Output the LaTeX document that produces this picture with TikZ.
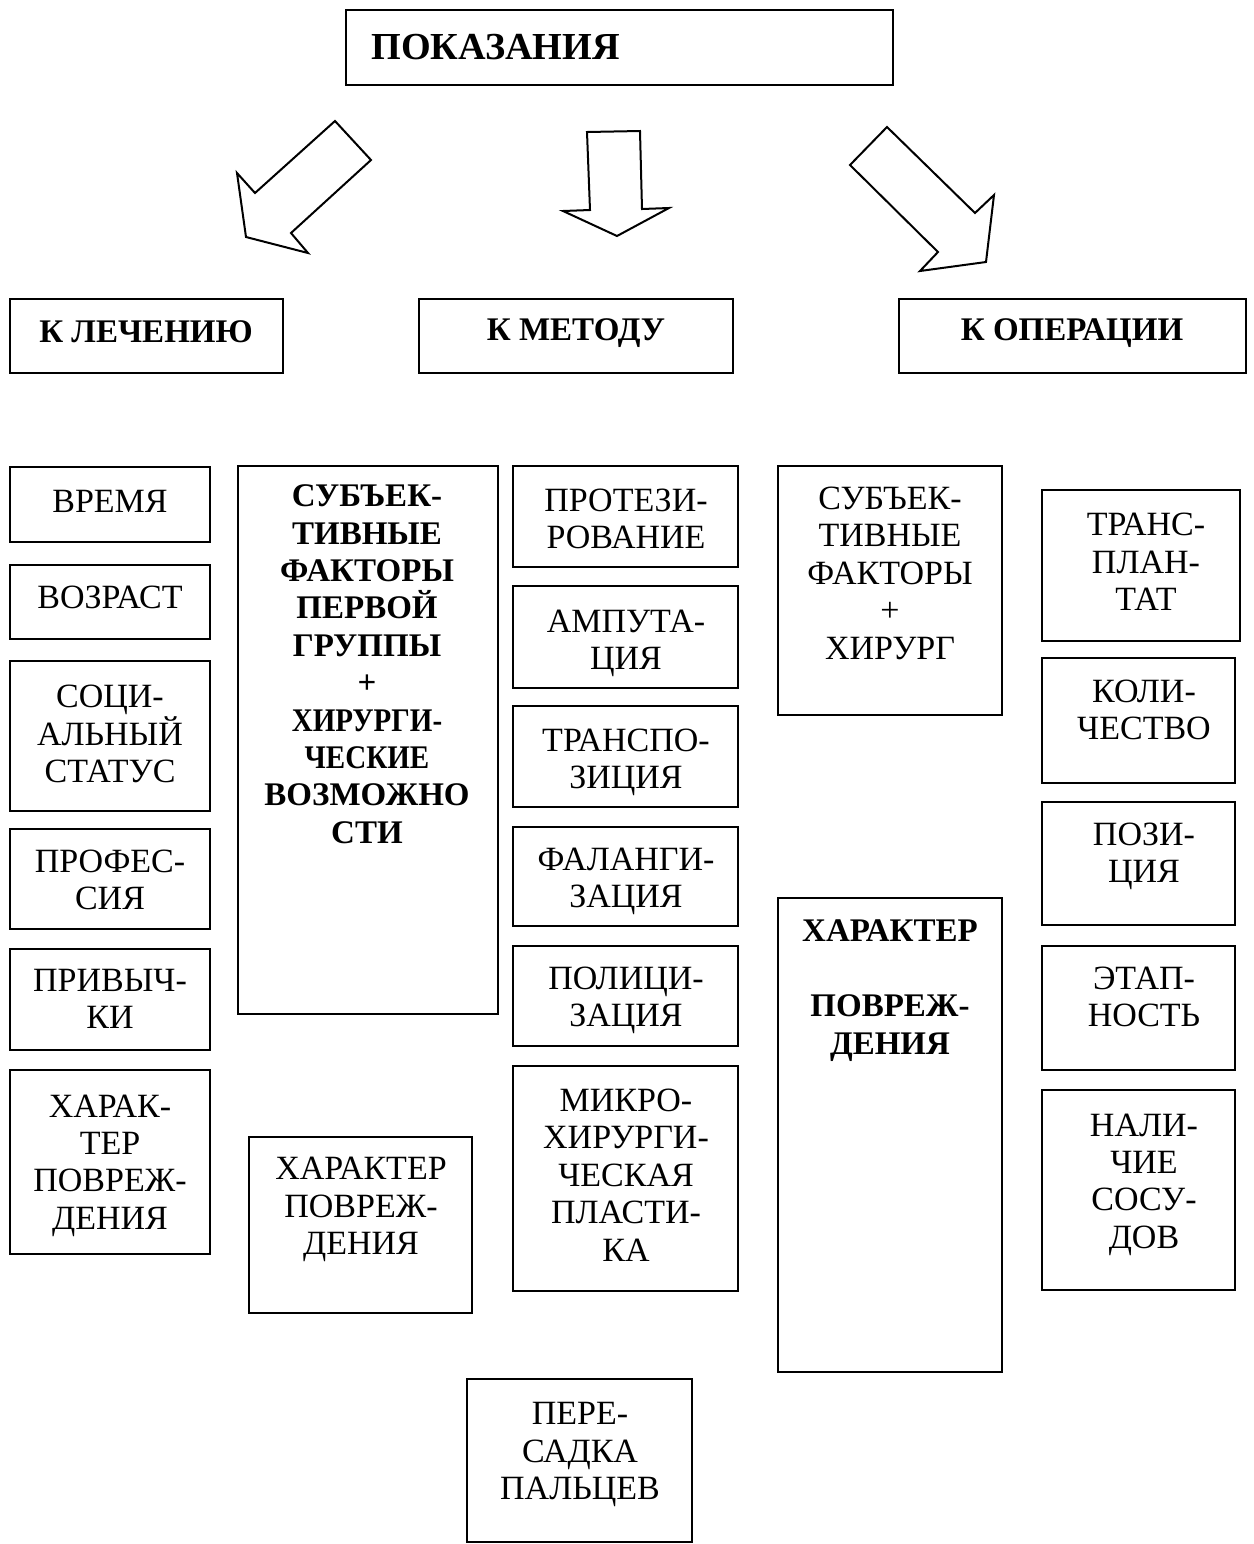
\documentclass[tikz,border=0pt]{standalone}
\usepackage{fontspec}
\setmainfont{Liberation Serif}
\tikzset{
  box/.style={draw, line width=1pt, inner sep=0pt, outer sep=0pt},
  txt/.style={align=center, inner sep=0pt, text depth=0pt, font=\fontsize{17}{18.7}\selectfont},
  btxt/.style={align=center, inner sep=0pt, text depth=0pt, font=\fontsize{16.5}{18.7}\selectfont\bfseries},
  blockarrow/.style={draw, line width=1pt, line join=miter}
}
\newcommand\boxat[5]{\node[box, minimum width={(#4-#2)*0.5pt}, minimum height={(#5-#3)*0.5pt}] (#1) at ({(#2+#4)/2},{(#3+#5)/2}) {};}
\begin{document}
\begin{tikzpicture}[x=0.5pt,y=-0.5pt]
\useasboundingbox (0,0) rectangle (1254,1544);

% top
\boxat{pok}{346}{10}{893}{85}
\node[btxt, anchor=west, font=\fontsize{19.1}{21}\selectfont\bfseries] (tpok) at (371,47) {ПОКАЗАНИЯ};

% arrows
\draw[blockarrow] (335,121) -- (371,160) -- (291,233) -- (308,253) -- (246,237) -- (237,173) -- (255,193) -- cycle;
\draw[blockarrow] (587,132) -- (640,131) -- (642,209) -- (669,208) -- (617,236) -- (563,211) -- (590,210) -- cycle;
\draw[blockarrow] (887,127) -- (975,213) -- (994,195) -- (986,262) -- (920,271) -- (938,252) -- (850,165) -- cycle;

% second row
\boxat{lech}{10}{299}{283}{373}
\node[btxt] (tlech) at (146,332) {К ЛЕЧЕНИЮ};
\boxat{met}{419}{299}{733}{373}
\node[btxt] (tmet) at (576,330) {К МЕТОДУ};
\boxat{oper}{899}{299}{1246}{373}
\node[btxt] (toper) at (1072,330) {К ОПЕРАЦИИ};

% column 1
\boxat{c1a}{10}{467}{210}{542}
\node[txt] (t1a) at (110,501) {ВРЕМЯ};
\boxat{c1b}{10}{565}{210}{639}
\node[txt] (t1b) at (110,597) {ВОЗРАСТ};
\boxat{c1c}{10}{661}{210}{811}
\node[txt] (t1c) at (110,734) {СОЦИ-\\АЛЬНЫЙ\\СТАТУС};
\boxat{c1d}{10}{829}{210}{929}
\node[txt] (t1d) at (110,880) {ПРОФЕС-\\СИЯ};
\boxat{c1e}{10}{949}{210}{1050}
\node[txt] (t1e) at (110,999) {ПРИВЫЧ-\\КИ};
\boxat{c1f}{10}{1070}{210}{1254}
\node[txt] (t1f) at (110,1162) {ХАРАК-\\ТЕР\\ПОВРЕЖ-\\ДЕНИЯ};

% column 2
\boxat{c2a}{238}{466}{498}{1014}
\node[btxt] (t2a) at (367,664) {СУБЪЕК-\\ТИВНЫЕ\\ФАКТОРЫ\\ПЕРВОЙ\\ГРУППЫ\\+\\\scalebox{0.88}[1]{ХИРУРГИ-}\\\scalebox{0.88}[1]{ЧЕСКИЕ}\\ВОЗМОЖНО\\СТИ};
\boxat{c2b}{249}{1137}{472}{1313}
\node[txt] (t2b) at (361,1206) {ХАРАКТЕР\\ПОВРЕЖ-\\ДЕНИЯ};

% column 3
\boxat{c3a}{513}{466}{738}{567}
\node[txt] (t3a) at (626,519) {ПРОТЕЗИ-\\РОВАНИЕ};
\boxat{c3b}{513}{586}{738}{688}
\node[txt] (t3b) at (626,640) {АМПУТА-\\ЦИЯ};
\boxat{c3c}{513}{706}{738}{807}
\node[txt] (t3c) at (626,759) {ТРАНСПО-\\ЗИЦИЯ};
\boxat{c3d}{513}{827}{738}{926}
\node[txt] (t3d) at (626,878) {ФАЛАНГИ-\\ЗАЦИЯ};
\boxat{c3e}{513}{946}{738}{1046}
\node[txt] (t3e) at (626,997) {ПОЛИЦИ-\\ЗАЦИЯ};
\boxat{c3f}{513}{1066}{738}{1291}
\node[txt] (t3f) at (626,1175) {МИКРО-\\ХИРУРГИ-\\ЧЕСКАЯ\\ПЛАСТИ-\\КА};
\boxat{c3g}{467}{1379}{692}{1542}
\node[txt] (t3g) at (580,1451) {ПЕРЕ-\\САДКА\\ПАЛЬЦЕВ};

% column 4
\boxat{c4a}{778}{466}{1002}{715}
\node[txt] (t4a) at (890,573) {СУБЪЕК-\\ТИВНЫЕ\\ФАКТОРЫ\\+\\ХИРУРГ};
\boxat{c4b}{778}{898}{1002}{1372}
\node[btxt] (t4b) at (890,987) {ХАРАКТЕР\\[18.7pt]ПОВРЕЖ-\\ДЕНИЯ};

% column 5
\boxat{c5a}{1042}{490}{1240}{641}
\node[txt] (t5a) at (1146,562) {ТРАНС-\\ПЛАН-\\ТАТ};
\boxat{c5b}{1042}{658}{1235}{783}
\node[txt] (t5b) at (1144,710) {КОЛИ-\\ЧЕСТВО};
\boxat{c5c}{1042}{802}{1235}{925}
\node[txt] (t5c) at (1144,853) {ПОЗИ-\\ЦИЯ};
\boxat{c5d}{1042}{946}{1235}{1070}
\node[txt] (t5d) at (1144,997) {ЭТАП-\\НОСТЬ};
\boxat{c5e}{1042}{1090}{1235}{1290}
\node[txt] (t5e) at (1144,1181) {НАЛИ-\\ЧИЕ\\СОСУ-\\ДОВ};
\end{tikzpicture}
\end{document}
